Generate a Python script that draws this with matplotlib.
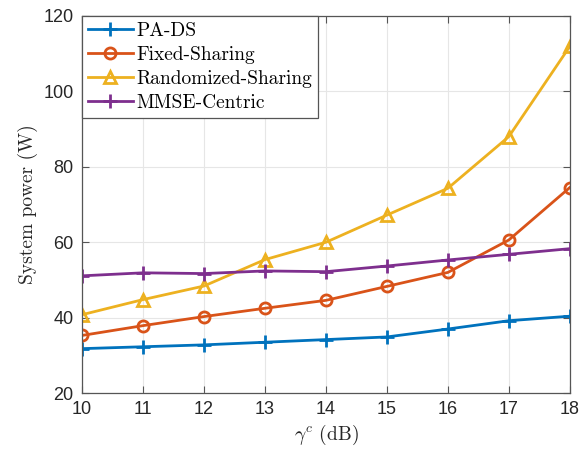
import matplotlib
matplotlib.use("Agg")
import matplotlib.pyplot as plt

gamma_db = [10, 11, 12, 13, 14, 15, 16, 17, 18]
pa_ds = [31.8, 32.3, 32.8, 33.5, 34.2, 34.9, 37.0, 39.2, 40.4]
fixed_sharing = [35.3, 37.9, 40.3, 42.5, 44.6, 48.3, 52.0, 60.6, 74.5]
randomized_sharing = [40.8, 44.8, 48.4, 55.4, 60.0, 67.2, 74.3, 88.0, 111.9]
mmse_centric = [51.1, 51.9, 51.7, 52.4, 52.2, 53.7, 55.3, 56.8, 58.3]

plt.rcParams['mathtext.fontset'] = 'cm'
serif = {'family': 'cmr10', 'size': 14}

fig = plt.figure(figsize=(5.82, 4.54), dpi=100)
ax = fig.add_axes([0.141, 0.134, 0.838, 0.831])

ax.plot(gamma_db, pa_ds, color='#0072BD', lw=2, marker='+', ms=10, mew=2, label='PA-DS')
ax.plot(gamma_db, fixed_sharing, color='#D95319', lw=2, marker='o', ms=8, mew=2,
        mfc='none', label='Fixed-Sharing')
ax.plot(gamma_db, randomized_sharing, color='#EDB120', lw=2, marker='^', ms=9, mew=2,
        mfc='none', label='Randomized-Sharing')
ax.plot(gamma_db, mmse_centric, color='#7E2F8E', lw=2, marker='+', ms=10, mew=2,
        label='MMSE-Centric')

ax.set_xlim(10, 18)
ax.set_ylim(20, 120)
ax.set_xticks(gamma_db)
ax.set_yticks([20, 40, 60, 80, 100, 120])
ax.grid(True, color='#e6e6e6', lw=0.8)
ax.set_axisbelow(True)
ax.tick_params(direction='in', top=True, right=True, length=5, color='#555555',
               labelsize=13, labelcolor='#262626', pad=6)
for lab in ax.get_xticklabels() + ax.get_yticklabels():
    lab.set_fontfamily('Liberation Sans')
for s in ax.spines.values():
    s.set_color('#555555')
    s.set_linewidth(0.9)

ax.set_xlabel(r'$\gamma^c$ (dB)', fontdict=serif, color='#262626', labelpad=3)
ax.set_ylabel('System power (W)', fontdict=serif, color='#262626', labelpad=4)

leg = ax.legend(loc='upper left', prop=serif, borderaxespad=0, fancybox=False,
                framealpha=1, edgecolor='#555555', handlelength=2.3,
                handletextpad=0.2, labelspacing=0.32, borderpad=0.3)
leg.get_frame().set_linewidth(0.9)

fig.savefig('out.png', dpi=100)
